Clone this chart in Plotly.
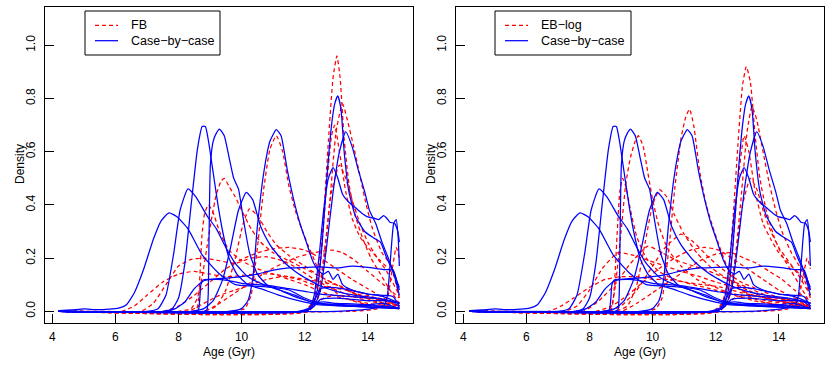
import plotly.graph_objects as go

# ---------------- data: Case-by-case densities (shared by both panels) ----------------
case_age_01 = [4.2, 4.6, 5.0, 5.4, 5.8, 6.1, 6.35, 6.6, 6.9, 7.2, 7.45, 7.7, 7.95, 8.3, 8.76, 9.3, 9.8, 10.4, 11.0, 11.5, 12.0, 12.5, 13.2, 14.2, 15.0]
case_den_01 = [0.003, 0.005, 0.009, 0.006, 0.008, 0.012, 0.025, 0.07, 0.16, 0.27, 0.34, 0.37, 0.355, 0.31, 0.21, 0.14, 0.1, 0.095, 0.09, 0.08, 0.05, 0.03, 0.025, 0.02, 0.012]
case_age_02 = [4.2, 7.0, 7.35, 7.6, 7.85, 8.05, 8.3, 8.55, 8.9, 9.2, 9.5, 9.8, 10.2, 10.7, 11.2, 11.7, 12.2, 12.8, 13.5, 14.3, 15.0]
case_den_02 = [0.0, 0.0, 0.01, 0.06, 0.22, 0.38, 0.46, 0.43, 0.36, 0.31, 0.24, 0.18, 0.13, 0.1, 0.08, 0.06, 0.035, 0.025, 0.02, 0.02, 0.012]
case_age_03 = [4.2, 7.5, 7.8, 8.0, 8.2, 8.4, 8.6, 8.75, 8.85, 8.95, 9.1, 9.25, 9.4, 9.6, 9.85, 10.2, 10.6, 11.2, 11.8, 12.4, 13.2, 14.2, 15.0]
case_den_03 = [0.0, 0.0, 0.01, 0.05, 0.18, 0.4, 0.61, 0.695, 0.695, 0.64, 0.52, 0.4, 0.3, 0.2, 0.14, 0.1, 0.085, 0.06, 0.04, 0.025, 0.02, 0.015, 0.01]
case_age_04 = [4.2, 8.8, 8.9, 8.94, 8.97, 9.01, 9.1, 9.2, 9.3, 9.45, 9.6, 9.75, 9.9, 10.05, 10.25, 10.5, 10.8, 11.2, 11.8, 12.4, 13.2, 14.2, 15.0]
case_den_04 = [0.0, 0.0, 0.005, 0.06, 0.3, 0.55, 0.64, 0.67, 0.685, 0.66, 0.58, 0.5, 0.46, 0.35, 0.22, 0.14, 0.1, 0.08, 0.05, 0.03, 0.02, 0.015, 0.01]
case_age_05 = [4.2, 8.55, 8.63, 8.67, 8.71, 8.78, 9.0, 9.5, 10.0, 10.5, 11.0, 11.5, 12.0, 12.5, 13.0, 13.5, 14.0, 14.5, 14.8, 14.95, 15.0]
case_den_05 = [0.0, 0.0, 0.005, 0.04, 0.1, 0.118, 0.12, 0.125, 0.13, 0.14, 0.155, 0.163, 0.165, 0.167, 0.163, 0.17, 0.165, 0.157, 0.155, 0.1, 0.08]
case_age_06 = [4.2, 7.6, 7.9, 8.2, 8.5, 8.8, 9.2, 9.6, 10.0, 10.5, 11.0, 11.5, 12.0, 12.5, 13.0, 13.5, 14.0, 14.5, 15.0]
case_den_06 = [0.0, 0.0, 0.01, 0.035, 0.085, 0.115, 0.12, 0.115, 0.105, 0.1, 0.095, 0.085, 0.075, 0.065, 0.06, 0.055, 0.05, 0.045, 0.03]
case_age_07 = [4.2, 8.4, 8.8, 9.1, 9.4, 9.65, 9.9, 10.15, 10.35, 10.6, 10.9, 11.3, 11.7, 12.1, 12.5, 13.0, 13.6, 14.3, 15.0]
case_den_07 = [0.0, 0.0, 0.01, 0.04, 0.12, 0.24, 0.38, 0.447, 0.42, 0.32, 0.25, 0.19, 0.15, 0.12, 0.095, 0.075, 0.06, 0.05, 0.03]
case_age_08 = [4.2, 9.6, 10.0, 10.2, 10.35, 10.5, 10.7, 10.9, 11.1, 11.25, 11.45, 11.65, 11.85, 12.05, 12.25, 12.45, 12.6, 12.75, 12.9, 13.05, 13.2, 13.5, 14.0, 14.5, 15.0]
case_den_08 = [0.0, 0.0, 0.01, 0.04, 0.12, 0.32, 0.52, 0.64, 0.683, 0.66, 0.53, 0.42, 0.33, 0.26, 0.19, 0.15, 0.14, 0.15, 0.12, 0.14, 0.1, 0.08, 0.065, 0.055, 0.03]
case_age_09 = [4.2, 11.9, 12.15, 12.3, 12.45, 12.6, 12.75, 12.9, 13.05, 13.2, 13.4, 13.6, 13.8, 14.0, 14.2, 14.35, 14.5, 14.6, 14.7, 14.85, 14.95, 15.0]
case_den_09 = [0.0, 0.0, 0.01, 0.06, 0.2, 0.38, 0.5, 0.54, 0.5, 0.44, 0.41, 0.39, 0.37, 0.355, 0.35, 0.345, 0.36, 0.35, 0.335, 0.33, 0.3, 0.26]
case_age_10 = [4.2, 11.9, 12.2, 12.4, 12.55, 12.7, 12.85, 12.95, 13.05, 13.15, 13.25, 13.4, 13.6, 13.9, 14.2, 14.4, 14.6, 14.8, 15.0]
case_den_10 = [0.0, 0.0, 0.01, 0.08, 0.25, 0.5, 0.7, 0.78, 0.81, 0.76, 0.6, 0.45, 0.36, 0.3, 0.275, 0.26, 0.2, 0.15, 0.09]
case_age_11 = [4.2, 12.0, 12.3, 12.5, 12.7, 12.9, 13.1, 13.3, 13.5, 13.7, 13.9, 14.05, 14.25, 14.45, 14.65, 14.85, 15.0]
case_den_11 = [0.0, 0.0, 0.02, 0.08, 0.25, 0.45, 0.6, 0.675, 0.62, 0.53, 0.45, 0.38, 0.33, 0.26, 0.2, 0.13, 0.06]
case_age_12 = [4.2, 13.0, 14.0, 14.5, 14.62, 14.72, 14.82, 14.9, 14.96, 15.0]
case_den_12 = [0.0, 0.0, 0.008, 0.02, 0.06, 0.2, 0.33, 0.345, 0.28, 0.17]
case_age_13 = [4.2, 11.9, 12.2, 12.35, 12.5, 12.8, 13.2, 13.6, 14.0, 14.5, 14.8, 15.0]
case_den_13 = [0.0, 0.0, 0.01, 0.05, 0.085, 0.09, 0.085, 0.075, 0.065, 0.06, 0.055, 0.02]
case_age_14 = [4.2, 11.8, 12.1, 12.3, 12.6, 13.0, 13.5, 14.0, 14.5, 15.0]
case_den_14 = [0.0, 0.0, 0.01, 0.03, 0.035, 0.03, 0.028, 0.025, 0.03, 0.01]
case_age_15 = [4.2, 12.0, 12.3, 12.5, 13.0, 13.5, 14.0, 14.5, 14.8, 15.0]
case_den_15 = [0.0, 0.0, 0.02, 0.045, 0.05, 0.045, 0.04, 0.04, 0.035, 0.015]

# ---------------- data: FB densities (left panel) ----------------
fb_age_01 = [4.2, 12.0, 12.25, 12.45, 12.6, 12.75, 12.9, 13.02, 13.12, 13.25, 13.4, 13.6, 13.85, 14.1, 14.4, 14.7, 15.0]
fb_den_01 = [0.0, 0.0, 0.03, 0.14, 0.36, 0.64, 0.88, 0.96, 0.88, 0.65, 0.48, 0.36, 0.27, 0.2, 0.14, 0.08, 0.03]
fb_age_02 = [4.2, 12.1, 12.4, 12.6, 12.8, 13.0, 13.2, 13.35, 13.55, 13.75, 13.95, 14.15, 14.45, 14.75, 15.0]
fb_den_02 = [0.0, 0.0, 0.04, 0.18, 0.42, 0.68, 0.78, 0.72, 0.62, 0.51, 0.4, 0.31, 0.22, 0.17, 0.08]
fb_age_03 = [4.2, 12.0, 12.3, 12.5, 12.7, 12.85, 12.95, 13.1, 13.3, 13.5, 13.75, 14.0, 14.4, 14.8, 15.0]
fb_den_03 = [0.0, 0.0, 0.05, 0.2, 0.48, 0.66, 0.7, 0.6, 0.45, 0.35, 0.28, 0.24, 0.19, 0.14, 0.05]
fb_age_04 = [4.2, 12.1, 12.4, 12.65, 12.85, 13.1, 13.3, 13.5, 13.75, 14.0, 14.3, 14.6, 15.0]
fb_den_04 = [0.0, 0.0, 0.05, 0.25, 0.45, 0.55, 0.5, 0.42, 0.33, 0.26, 0.2, 0.15, 0.06]
fb_age_05 = [4.2, 9.7, 10.1, 10.3, 10.5, 10.7, 10.9, 11.1, 11.3, 11.5, 11.7, 11.9, 12.1, 12.35, 12.6, 13.0, 13.5, 14.2, 15.0]
fb_den_05 = [0.0, 0.0, 0.01, 0.06, 0.24, 0.46, 0.61, 0.66, 0.6, 0.47, 0.38, 0.31, 0.25, 0.18, 0.12, 0.07, 0.04, 0.02, 0.01]
fb_age_06 = [4.2, 8.0, 8.4, 8.6, 8.75, 8.9, 9.05, 9.2, 9.35, 9.45, 9.6, 9.8, 10.0, 10.3, 10.6, 11.0, 11.5, 12.0, 12.5, 13.0, 13.5, 14.2, 15.0]
fb_den_06 = [0.0, 0.0, 0.01, 0.05, 0.13, 0.24, 0.35, 0.44, 0.49, 0.5, 0.47, 0.43, 0.38, 0.31, 0.26, 0.22, 0.19, 0.16, 0.13, 0.1, 0.07, 0.04, 0.02]
fb_age_07 = [4.2, 8.8, 9.2, 9.5, 9.8, 10.05, 10.25, 10.5, 10.8, 11.1, 11.5, 12.0, 12.5, 13.0, 13.5, 14.2, 15.0]
fb_den_07 = [0.0, 0.0, 0.02, 0.08, 0.2, 0.33, 0.385, 0.36, 0.3, 0.25, 0.21, 0.17, 0.13, 0.1, 0.07, 0.04, 0.02]
fb_age_08 = [4.2, 8.45, 8.57, 8.63, 8.68, 8.74, 8.83, 8.95, 9.1, 9.3, 9.6, 10.0, 10.5, 11.0, 11.5, 12.0, 12.6, 13.2, 14.0, 15.0]
fb_den_08 = [0.0, 0.0, 0.005, 0.04, 0.14, 0.28, 0.37, 0.4, 0.37, 0.3, 0.23, 0.19, 0.16, 0.14, 0.12, 0.1, 0.07, 0.05, 0.03, 0.015]
fb_age_09 = [4.2, 7.5, 8.0, 8.5, 9.0, 9.5, 10.0, 10.5, 11.0, 11.5, 12.0, 12.5, 13.0, 13.5, 14.0, 14.5, 15.0]
fb_den_09 = [0.0, 0.0, 0.02, 0.06, 0.11, 0.16, 0.195, 0.22, 0.235, 0.24, 0.23, 0.2, 0.16, 0.12, 0.085, 0.05, 0.02]
fb_age_10 = [4.2, 8.8, 9.3, 9.8, 10.3, 10.8, 11.3, 11.8, 12.3, 12.85, 13.2, 13.6, 14.0, 14.5, 15.0]
fb_den_10 = [0.0, 0.0, 0.03, 0.07, 0.11, 0.15, 0.18, 0.205, 0.22, 0.23, 0.22, 0.19, 0.15, 0.1, 0.05]
fb_age_11 = [4.2, 6.8, 7.2, 7.6, 8.0, 8.4, 8.8, 9.3, 9.8, 10.3, 10.8, 11.3, 11.8, 12.3, 12.8, 13.4, 14.0, 14.6, 15.0]
fb_den_11 = [0.0, 0.0, 0.03, 0.1, 0.17, 0.195, 0.2, 0.19, 0.18, 0.2, 0.205, 0.19, 0.16, 0.12, 0.09, 0.06, 0.04, 0.025, 0.01]
fb_age_12 = [4.2, 6.2, 6.6, 7.0, 7.5, 8.0, 8.5, 9.0, 9.5, 10.0, 10.5, 11.0, 11.5, 12.0, 12.5, 13.0, 13.5, 14.0, 14.5, 15.0]
fb_den_12 = [0.0, 0.0, 0.02, 0.06, 0.11, 0.14, 0.15, 0.14, 0.13, 0.135, 0.14, 0.14, 0.13, 0.12, 0.11, 0.1, 0.08, 0.06, 0.04, 0.02]
fb_age_13 = [4.2, 8.3, 8.8, 9.3, 9.8, 10.3, 10.8, 11.3, 11.8, 12.3, 12.8, 13.3, 13.8, 14.3, 15.0]
fb_den_13 = [0.0, 0.0, 0.03, 0.06, 0.08, 0.1, 0.12, 0.13, 0.12, 0.1, 0.09, 0.08, 0.06, 0.05, 0.03]
fb_age_14 = [4.2, 13.5, 14.3, 14.6, 14.75, 14.9, 15.0]
fb_den_14 = [0.0, 0.0, 0.01, 0.04, 0.14, 0.24, 0.2]
fb_age_15 = [4.2, 12.0, 12.3, 12.6, 13.0, 13.5, 14.0, 14.5, 15.0]
fb_den_15 = [0.0, 0.0, 0.02, 0.05, 0.06, 0.055, 0.05, 0.04, 0.02]

# ---------------- data: EB-log densities (right panel) ----------------
eb_age_01 = [4.2, 11.9, 12.2, 12.4, 12.55, 12.7, 12.85, 12.97, 13.1, 13.25, 13.4, 13.6, 13.85, 14.1, 14.4, 14.7, 15.0]
eb_den_01 = [0.0, 0.0, 0.03, 0.14, 0.35, 0.62, 0.85, 0.92, 0.86, 0.66, 0.5, 0.38, 0.28, 0.21, 0.15, 0.09, 0.03]
eb_age_02 = [4.2, 12.1, 12.4, 12.6, 12.8, 13.0, 13.15, 13.3, 13.5, 13.7, 13.9, 14.1, 14.4, 14.7, 15.0]
eb_den_02 = [0.0, 0.0, 0.04, 0.18, 0.42, 0.68, 0.77, 0.72, 0.6, 0.48, 0.38, 0.3, 0.22, 0.16, 0.08]
eb_age_03 = [4.2, 12.0, 12.3, 12.5, 12.7, 12.9, 13.05, 13.25, 13.5, 13.75, 14.0, 14.4, 14.8, 15.0]
eb_den_03 = [0.0, 0.0, 0.05, 0.2, 0.48, 0.66, 0.6, 0.45, 0.33, 0.27, 0.22, 0.17, 0.12, 0.05]
eb_age_04 = [4.2, 12.1, 12.4, 12.65, 12.85, 13.1, 13.3, 13.5, 13.75, 14.0, 14.3, 14.6, 15.0]
eb_den_04 = [0.0, 0.0, 0.05, 0.22, 0.4, 0.5, 0.46, 0.38, 0.3, 0.24, 0.19, 0.14, 0.06]
eb_age_05 = [4.2, 9.8, 10.1, 10.3, 10.5, 10.7, 10.9, 11.05, 11.17, 11.3, 11.5, 11.7, 11.9, 12.1, 12.35, 12.6, 13.0, 13.5, 14.2, 15.0]
eb_den_05 = [0.0, 0.0, 0.01, 0.05, 0.22, 0.46, 0.65, 0.73, 0.76, 0.7, 0.52, 0.4, 0.32, 0.25, 0.17, 0.11, 0.06, 0.035, 0.02, 0.01]
eb_age_06 = [4.2, 8.45, 8.62, 8.72, 8.8, 8.9, 9.0, 9.15, 9.3, 9.45, 9.55, 9.7, 9.85, 10.0, 10.2, 10.5, 10.9, 11.4, 12.0, 12.6, 13.2, 14.0, 15.0]
eb_den_06 = [0.0, 0.0, 0.005, 0.03, 0.08, 0.18, 0.3, 0.48, 0.58, 0.64, 0.66, 0.62, 0.52, 0.42, 0.32, 0.23, 0.17, 0.12, 0.09, 0.06, 0.04, 0.025, 0.01]
eb_age_07 = [4.2, 8.55, 8.68, 8.75, 8.8, 8.88, 8.96, 9.05, 9.15, 9.3, 9.5, 9.8, 10.2, 10.7, 11.3, 12.0, 12.8, 13.6, 14.4, 15.0]
eb_den_07 = [0.0, 0.0, 0.005, 0.04, 0.12, 0.3, 0.45, 0.5, 0.47, 0.38, 0.28, 0.2, 0.15, 0.12, 0.1, 0.08, 0.06, 0.04, 0.025, 0.01]
eb_age_08 = [4.2, 8.8, 9.2, 9.5, 9.75, 10.0, 10.22, 10.45, 10.7, 11.0, 11.4, 11.9, 12.4, 13.0, 13.6, 14.3, 15.0]
eb_den_08 = [0.0, 0.0, 0.02, 0.1, 0.25, 0.4, 0.457, 0.43, 0.36, 0.29, 0.22, 0.16, 0.12, 0.08, 0.05, 0.03, 0.015]
eb_age_09 = [4.2, 8.2, 8.7, 9.2, 9.7, 10.2, 10.7, 11.2, 11.65, 12.1, 12.5, 13.0, 13.5, 14.0, 14.5, 15.0]
eb_den_09 = [0.0, 0.0, 0.02, 0.06, 0.11, 0.16, 0.2, 0.23, 0.24, 0.23, 0.2, 0.16, 0.12, 0.08, 0.05, 0.02]
eb_age_10 = [4.2, 9.0, 9.5, 10.0, 10.5, 11.0, 11.5, 12.0, 12.5, 12.9, 13.3, 13.7, 14.1, 14.5, 15.0]
eb_den_10 = [0.0, 0.0, 0.03, 0.07, 0.11, 0.15, 0.19, 0.215, 0.22, 0.2, 0.18, 0.15, 0.12, 0.08, 0.04]
eb_age_11 = [4.2, 8.6, 9.0, 9.5, 10.0, 10.4, 10.9, 11.3, 11.8, 12.3, 12.8, 13.4, 14.0, 14.6, 15.0]
eb_den_11 = [0.0, 0.0, 0.02, 0.08, 0.17, 0.24, 0.29, 0.26, 0.2, 0.15, 0.11, 0.08, 0.05, 0.03, 0.015]
eb_age_12 = [4.2, 7.2, 7.6, 8.0, 8.4, 8.9, 9.4, 9.9, 10.4, 10.9, 11.5, 12.0, 12.6, 13.2, 14.0, 15.0]
eb_den_12 = [0.0, 0.0, 0.02, 0.08, 0.16, 0.22, 0.21, 0.19, 0.17, 0.15, 0.13, 0.11, 0.09, 0.06, 0.04, 0.02]
eb_age_13 = [4.2, 7.8, 8.3, 8.8, 9.3, 9.85, 10.3, 10.8, 11.3, 11.8, 12.4, 13.0, 13.6, 14.3, 15.0]
eb_den_13 = [0.0, 0.0, 0.04, 0.1, 0.18, 0.245, 0.22, 0.19, 0.17, 0.15, 0.12, 0.09, 0.06, 0.04, 0.02]
eb_age_14 = [4.2, 6.7, 7.1, 7.5, 8.0, 8.5, 9.0, 9.5, 10.0, 10.5, 11.0, 11.6, 12.2, 12.8, 13.4, 14.0, 14.6, 15.0]
eb_den_14 = [0.0, 0.0, 0.02, 0.05, 0.09, 0.12, 0.13, 0.13, 0.12, 0.12, 0.11, 0.1, 0.09, 0.07, 0.055, 0.04, 0.025, 0.015]
eb_age_15 = [4.2, 13.5, 14.3, 14.6, 14.75, 14.9, 15.0]
eb_den_15 = [0.0, 0.0, 0.01, 0.04, 0.12, 0.2, 0.16]
eb_age_16 = [4.2, 12.0, 12.3, 12.6, 13.0, 13.5, 14.0, 14.5, 15.0]
eb_den_16 = [0.0, 0.0, 0.02, 0.05, 0.06, 0.055, 0.05, 0.04, 0.02]

x_ticks = [4, 6, 8, 10, 12, 14]
y_ticks = [0.0, 0.2, 0.4, 0.6, 0.8, 1.0]
y_tick_labels = ["0.0", "0.2", "0.4", "0.6", "0.8", "1.0"]
panel_methods = ["FB", "EB\u2212log"]
case_label = "Case\u2212by\u2212case"

case_curves = [(case_age_01, case_den_01), (case_age_02, case_den_02), (case_age_03, case_den_03),
               (case_age_04, case_den_04), (case_age_05, case_den_05), (case_age_06, case_den_06),
               (case_age_07, case_den_07), (case_age_08, case_den_08), (case_age_09, case_den_09),
               (case_age_10, case_den_10), (case_age_11, case_den_11), (case_age_12, case_den_12),
               (case_age_13, case_den_13), (case_age_14, case_den_14), (case_age_15, case_den_15)]
fb_curves = [(fb_age_01, fb_den_01), (fb_age_02, fb_den_02), (fb_age_03, fb_den_03), (fb_age_04, fb_den_04),
             (fb_age_05, fb_den_05), (fb_age_06, fb_den_06), (fb_age_07, fb_den_07), (fb_age_08, fb_den_08),
             (fb_age_09, fb_den_09), (fb_age_10, fb_den_10), (fb_age_11, fb_den_11), (fb_age_12, fb_den_12),
             (fb_age_13, fb_den_13), (fb_age_14, fb_den_14), (fb_age_15, fb_den_15)]
eb_curves = [(eb_age_01, eb_den_01), (eb_age_02, eb_den_02), (eb_age_03, eb_den_03), (eb_age_04, eb_den_04),
             (eb_age_05, eb_den_05), (eb_age_06, eb_den_06), (eb_age_07, eb_den_07), (eb_age_08, eb_den_08),
             (eb_age_09, eb_den_09), (eb_age_10, eb_den_10), (eb_age_11, eb_den_11), (eb_age_12, eb_den_12),
             (eb_age_13, eb_den_13), (eb_age_14, eb_den_14), (eb_age_15, eb_den_15), (eb_age_16, eb_den_16)]

# ---------------- figure ----------------
W, H = 830, 369
FONT = "Liberation Sans, Arial, Helvetica, sans-serif"
RED = "#FF0000"
BLUE = "#0000FF"
SMOOTH = 0.5
LW = 1.25

fig = go.Figure()

panels = [
    dict(xa="x", ya="y", red=fb_curves, box=(45, 7, 413, 323)),
    dict(xa="x2", ya="y2", red=eb_curves, box=(456, 7, 824, 323)),
]

for p in panels:
    for ages, dens in p["red"]:
        fig.add_trace(go.Scatter(x=ages, y=dens, mode="lines", xaxis=p["xa"], yaxis=p["ya"],
                                 line=dict(color=RED, width=LW, dash="4px,3px", shape="spline", smoothing=SMOOTH),
                                 showlegend=False, hoverinfo="skip"))
    for ages, dens in case_curves:
        fig.add_trace(go.Scatter(x=ages, y=dens, mode="lines", xaxis=p["xa"], yaxis=p["ya"],
                                 line=dict(color=BLUE, width=LW, shape="spline", smoothing=SMOOTH),
                                 showlegend=False, hoverinfo="skip"))

axis_common = dict(showgrid=False, zeroline=False, showline=True, mirror=True, linecolor="black",
                   linewidth=1, ticks="inside", ticklen=9, tickcolor="black", tickwidth=1,
                   automargin=False, tickfont=dict(family=FONT, size=12, color="black"))

def px2x(v):
    return v / W

def px2y(v):
    return 1 - v / H

for i, p in enumerate(panels):
    x0, y0, x1, y1 = p["box"]
    xname = "xaxis" if i == 0 else "xaxis2"
    yname = "yaxis" if i == 0 else "yaxis2"
    fig.update_layout(**{
        xname: dict(axis_common, domain=[px2x(x0), px2x(x1)], range=[3.768, 15.432],
                    tickvals=x_ticks, anchor=p["ya"], ticklabelstandoff=3),
        yname: dict(axis_common, domain=[px2y(y1), px2y(y0)], range=[-0.044, 1.144],
                    tickvals=y_ticks, ticktext=y_tick_labels, tickangle=-90, anchor=p["xa"],
                    ticklabelstandoff=4),
    })

shapes = []
annotations = []
legend_boxes = [(85, 11, 220, 55), (495, 11, 631, 55)]
for i, p in enumerate(panels):
    x0, y0, x1, y1 = p["box"]
    annotations.append(dict(text="Age (Gyr)", x=px2x((x0 + x1) / 2), y=px2y(352), xref="paper", yref="paper",
                            showarrow=False, xanchor="center", yanchor="middle",
                            font=dict(family=FONT, size=12, color="black")))
    annotations.append(dict(text="Density", x=px2x(x0 - 25), y=px2y(164), xref="paper", yref="paper",
                            showarrow=False, xanchor="center", yanchor="middle", textangle=-90,
                            font=dict(family=FONT, size=12, color="black")))
    lx0, ly0, lx1, ly1 = legend_boxes[i]
    shapes.append(dict(type="rect", xref="paper", yref="paper", x0=px2x(lx0), x1=px2x(lx1),
                       y0=px2y(ly1), y1=px2y(ly0), line=dict(color="black", width=1), fillcolor="white"))
    shapes.append(dict(type="line", xref="paper", yref="paper", x0=px2x(lx0 + 10), x1=px2x(lx0 + 33),
                       y0=px2y(25.3), y1=px2y(25.3), line=dict(color=RED, width=LW, dash="4px,3px")))
    shapes.append(dict(type="line", xref="paper", yref="paper", x0=px2x(lx0 + 10), x1=px2x(lx0 + 33),
                       y0=px2y(40.7), y1=px2y(40.7), line=dict(color=BLUE, width=LW)))
    annotations.append(dict(text=panel_methods[i], x=px2x(lx0 + 44), y=px2y(25.3), xref="paper", yref="paper",
                            showarrow=False, xanchor="left", yanchor="middle",
                            font=dict(family=FONT, size=12.5, color="black")))
    annotations.append(dict(text=case_label, x=px2x(lx0 + 44), y=px2y(40.7), xref="paper", yref="paper",
                            showarrow=False, xanchor="left", yanchor="middle",
                            font=dict(family=FONT, size=12.5, color="black")))

fig.update_layout(width=W, height=H, margin=dict(l=0, r=0, t=0, b=0),
                  paper_bgcolor="white", plot_bgcolor="white", showlegend=False,
                  shapes=shapes, annotations=annotations)

fig.write_html("out.html", config={"displayModeBar": False},
               post_script="document.body.style.margin='0';document.body.style.padding='0';")
